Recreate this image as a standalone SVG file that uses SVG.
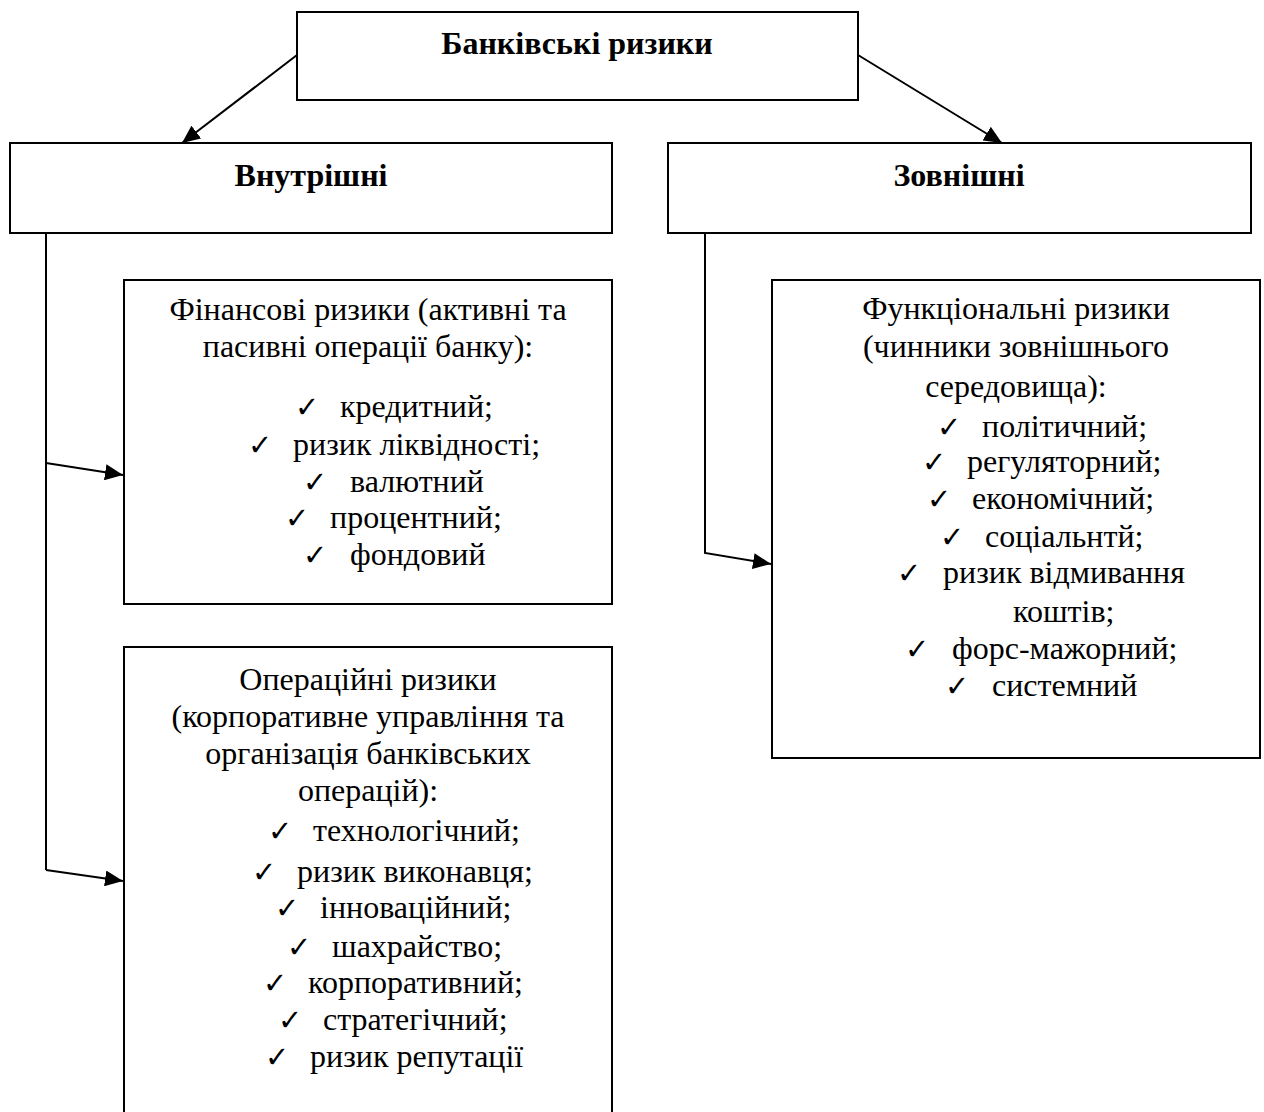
<svg xmlns="http://www.w3.org/2000/svg" width="1264" height="1112" viewBox="0 0 1264 1112">
<style>
.box{fill:#fff;stroke:#000;stroke-width:2}
.t{font-family:"Liberation Serif","Times New Roman",serif;font-size:32px;fill:#000}
.c{text-anchor:middle}
.b{font-weight:bold;font-size:32px}
.chk{font-family:"DejaVu Sans",sans-serif;font-size:29px;font-weight:bold;fill:#000}
.ln{fill:none;stroke:#000;stroke-width:2}
</style>
<defs>
<marker id="ah" markerUnits="userSpaceOnUse" markerWidth="20" markerHeight="16" refX="18" refY="8" orient="auto">
<path d="M0,0 L18,8 L0,16 Z" fill="#000"/>
</marker>
</defs>
<rect x="0" y="0" width="1264" height="1112" fill="#fff"/>
<g id="connectors">
<line class="ln" x1="297" y1="55" x2="182" y2="143" marker-end="url(#ah)"/>
<line class="ln" x1="858" y1="55" x2="1002" y2="143" marker-end="url(#ah)"/>
<polyline class="ln" points="46,233 46,870"/>
<line class="ln" x1="46" y1="463" x2="123" y2="475" marker-end="url(#ah)"/>
<line class="ln" x1="46" y1="870" x2="123" y2="881" marker-end="url(#ah)"/>
<polyline class="ln" points="705,233 705,553 771,564" marker-end="url(#ah)"/>
</g>
<g id="root">
<rect class="box" x="297" y="12" width="561" height="88"/>
<text class="t b c" x="577" y="54">Банківські ризики</text>
</g>
<g id="internal">
<rect class="box" x="10" y="143" width="602" height="90"/>
<text class="t b c" x="311" y="186">Внутрішні</text>
</g>
<g id="external">
<rect class="box" x="668" y="143" width="583" height="90"/>
<text class="t b c" x="959" y="186">Зовнішні</text>
</g>
<g id="financial">
<rect class="box" x="124" y="280" width="488" height="324"/>
<text class="t c" x="368" y="320">Фінансові ризики (активні та</text>
<text class="t c" x="368" y="357">пасивні операції банку):</text>
<text class="chk" x="295" y="417">✓</text><text class="t" x="340" y="417">кредитний;</text>
<text class="chk" x="248" y="455">✓</text><text class="t" x="293" y="455">ризик ліквідності;</text>
<text class="chk" x="303" y="492">✓</text><text class="t" x="350" y="492">валютний</text>
<text class="chk" x="285" y="528">✓</text><text class="t" x="330" y="528">процентний;</text>
<text class="chk" x="303" y="565">✓</text><text class="t" x="350" y="565">фондовий</text>
</g>
<g id="operational">
<rect class="box" x="124" y="647" width="488" height="480"/>
<text class="t c" x="368" y="690">Операційні ризики</text>
<text class="t c" x="368" y="727">(корпоративне управління та</text>
<text class="t c" x="368" y="764">організація банківських</text>
<text class="t c" x="368" y="801">операцій):</text>
<text class="chk" x="268" y="841">✓</text><text class="t" x="313" y="841">технологічний;</text>
<text class="chk" x="252" y="882">✓</text><text class="t" x="297" y="882">ризик виконавця;</text>
<text class="chk" x="275" y="918">✓</text><text class="t" x="320" y="918">інноваційний;</text>
<text class="chk" x="287" y="957">✓</text><text class="t" x="332" y="957">шахрайство;</text>
<text class="chk" x="263" y="993">✓</text><text class="t" x="308" y="993">корпоративний;</text>
<text class="chk" x="278" y="1030">✓</text><text class="t" x="323" y="1030">стратегічний;</text>
<text class="chk" x="265" y="1067">✓</text><text class="t" x="310" y="1067">ризик репутації</text>
</g>
<g id="functional">
<rect class="box" x="772" y="280" width="488" height="478"/>
<text class="t c" x="1016" y="319">Функціональні ризики</text>
<text class="t c" x="1016" y="357">(чинники зовнішнього</text>
<text class="t c" x="1016" y="397">середовища):</text>
<text class="chk" x="937" y="437">✓</text><text class="t" x="982" y="437">політичний;</text>
<text class="chk" x="922" y="472">✓</text><text class="t" x="967" y="472">регуляторний;</text>
<text class="chk" x="927" y="509">✓</text><text class="t" x="972" y="509">економічний;</text>
<text class="chk" x="940" y="547">✓</text><text class="t" x="985" y="547">соціальнтй;</text>
<text class="chk" x="897" y="583">✓</text><text class="t" x="943" y="583">ризик відмивання</text>
<text class="t" x="1013" y="622">коштів;</text>
<text class="chk" x="905" y="659">✓</text><text class="t" x="952" y="659">форс-мажорний;</text>
<text class="chk" x="945" y="696">✓</text><text class="t" x="992" y="696">системний</text>
</g>
</svg>
